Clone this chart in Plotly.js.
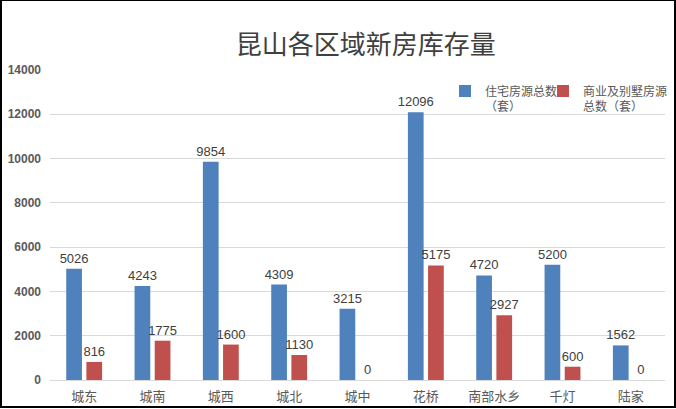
<!DOCTYPE html>
<html>
<head>
<meta charset="utf-8">
<script src="https://cdn.plot.ly/plotly-3.0.1.min.js"></script>
<style>
html,body{margin:0;padding:0;background:#fff;}
#wrap{position:relative;width:676px;height:409px;}
#chart{width:676px;height:409px;}
#frame{position:absolute;left:0;top:0;width:676px;height:408px;box-sizing:border-box;border:2px solid #000;border-top-width:1px;pointer-events:none;}
</style>
</head>
<body>
<div id="wrap"><div id="chart"></div><div id="frame"></div></div>
<script>
const categories = ["城东","城南","城西","城北","城中","花桥","南部水乡","千灯","陆家"];
const residential = [5026,4243,9854,4309,3215,12096,4720,5200,1562];
const commercial = [816,1775,1600,1130,0,5175,2927,600,0];
const seriesNames = ["住宅房源总数<br>（套）","商业及别墅房源<br>总数（套）"];
const yTicks = [0,2000,4000,6000,8000,10000,12000,14000];
const yTickLabels = ["0","2000","4000","6000","8000","10000","12000","14000"];

const labelFont = {family:"Liberation Sans, Arial, sans-serif", size:13, color:"#404040"};
const traces = [
  {type:"bar", x:categories, y:residential, name:seriesNames[0], marker:{color:"#4F81BD"},
   text:residential.map(String), textposition:"outside", textfont:labelFont, cliponaxis:false,
   constraintext:"none", legend:"legend"},
  {type:"bar", x:categories, y:commercial, name:seriesNames[1], marker:{color:"#C0504D"},
   text:commercial.map(String), textposition:"outside", textfont:labelFont, cliponaxis:false,
   constraintext:"none", legend:"legend2"}
];
const legendFont = {family:"Noto Sans CJK SC", size:12, color:"#595959"};
const layout = {
  width:676, height:409,
  margin:{l:50, r:11, t:70, b:29, autoexpand:false},
  paper_bgcolor:"#fff", plot_bgcolor:"#fff",
  barmode:"group", bargap:0.41, bargroupgap:0.22,
  title:{text:"昆山各区域新房库存量", x:0.541, xanchor:"center", y:0.89, yanchor:"middle",
    font:{family:"Noto Sans CJK SC", size:26, color:"#404040"}},
  xaxis:{showgrid:false, showline:true, linecolor:"#d9d9d9", linewidth:1, ticks:"", ticklabelstandoff:4,
    tickfont:{family:"Noto Sans CJK SC", size:13, color:"#595959"}},
  yaxis:{range:[0,14000], tickvals:yTicks, ticktext:yTickLabels, showgrid:true, gridcolor:"#d9d9d9", zeroline:false,
    ticks:"", ticklabelstandoff:8,
    tickfont:{family:"Liberation Sans, Arial, sans-serif", size:12, color:"#595959", weight:"bold"}},
  showlegend:true,
  legend:{x:(445-50)/615, y:0.978, xanchor:"left", yanchor:"top", valign:"top",
    font:legendFont, bgcolor:"rgba(0,0,0,0)", itemwidth:30},
  legend2:{x:(543-50)/615, y:0.978, xanchor:"left", yanchor:"top", valign:"top",
    font:legendFont, bgcolor:"rgba(0,0,0,0)", itemwidth:30}
};
Plotly.newPlot("chart", traces, layout, {displayModeBar:false, staticPlot:true});
</script>
</body>
</html>
